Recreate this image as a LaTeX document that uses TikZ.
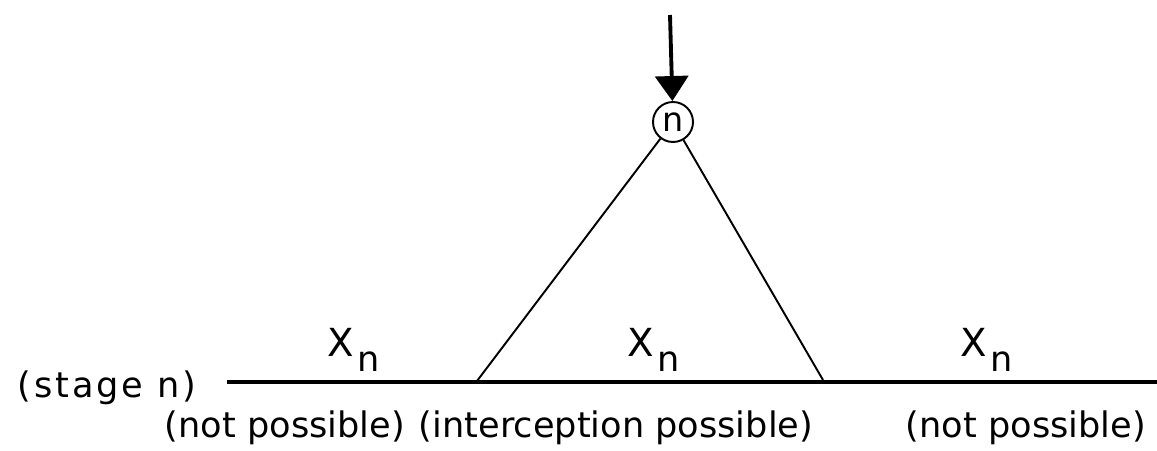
\documentclass[tikz,border=0pt]{standalone}
\usepackage{fontspec}
\setmainfont{DejaVu Sans}
\usetikzlibrary{arrows.meta}
\newcommand{\xsub}{{\fontsize{22}{24}\selectfont X}\hspace{0.1em}\raisebox{-0.75ex}{n}}

\begin{document}
\begin{tikzpicture}[line width=1.1pt]
  \useasboundingbox (0,0) rectangle (23.14,9);
  \tikzset{lbl/.style={font=\fontsize{20}{24}\selectfont, inner sep=1pt}}
  \coordinate (top) at (13.4,8.7);
  \node[circle, draw, inner sep=0pt, minimum size=0.8cm, font=\fontsize{19}{22}\selectfont] (n) at (13.46,6.56) {n};
  \draw[line width=2.2pt, -{Triangle[width=0.66cm,length=0.5cm]}] (top) -- (n);
  \coordinate (lineL) at (4.54,1.36);
  \coordinate (lineR) at (23.14,1.36);
  \coordinate (triL) at (9.54,1.38);
  \coordinate (triR) at (16.46,1.40);
  \draw[line width=2.8pt] (lineL) -- (lineR);
  \draw (n) -- (triL);
  \draw (n) -- (triR);
  \node[lbl, font=\fontsize{20}{24}\selectfont\addfontfeature{LetterSpace=8}] (stage) at (2.14,1.24) {(stage n)};
  \node[lbl] (x1) at (7.08,2.0) {\xsub};
  \node[lbl] (x2) at (13.08,2.0) {\xsub};
  \node[lbl] (x3) at (19.74,2.0) {\xsub};
  \node[lbl] (np1) at (5.7,0.44) {(not possible)};
  \node[lbl] (ip) at (12.32,0.44) {(interception possible)};
  \node[lbl] (np2) at (20.52,0.44) {(not possible)};
\end{tikzpicture}
\end{document}
